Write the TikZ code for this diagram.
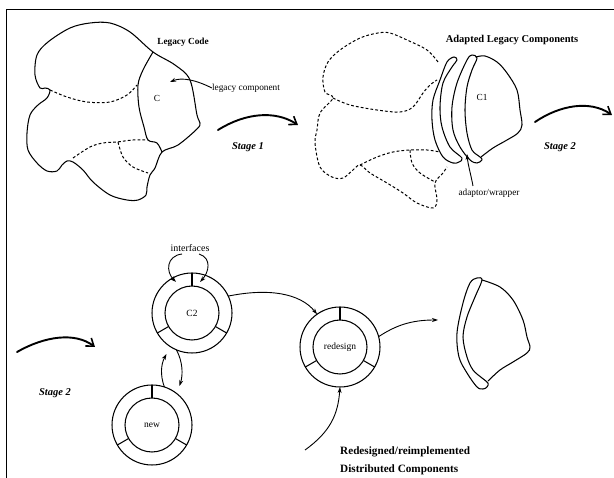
\documentclass[tikz,border=0pt]{standalone}
\usepackage{fontspec}
\setmainfont{Liberation Serif}
\usetikzlibrary{arrows.meta}
\begin{document}
\begin{tikzpicture}[x=1pt,y=-1pt,
  outl/.style={line width=1.05pt, line join=round, line cap=round},
  dsh/.style={line width=1pt, dash pattern=on 2.8pt off 2.1pt},
  ring/.style={circle, draw, line width=1.05pt, inner sep=0pt, outer sep=0pt},
  sarr/.style={line width=0.9pt, -{Stealth[length=6pt,width=4pt]}},
  bigarr/.style={line width=1.9pt, line cap=round, -{Straight Barb[length=7pt,width=10pt,line width=1.6pt]}},
  txt/.style={inner sep=0pt, font=\fontsize{9.3}{11}\selectfont},
  btxt/.style={inner sep=0pt, font=\fontsize{10.5}{12}\selectfont\bfseries},
  stg/.style={inner sep=0pt, font=\fontsize{10.5}{12}\selectfont\bfseries\itshape}
]
\useasboundingbox (0,0) rectangle (614,478);
% frame
\draw[line width=0.9pt] (6,478) -- (6,9) -- (614,9);

% ---------- Legacy code blob ----------
\draw[outl] plot[smooth cycle, tension=0.55] coordinates {
 (153,52) (175,65) (190,80) (197,115) (200,123) (197,129) (178,145) (162,152)
 (155,168) (150,175) (147,187) (146,195) (138,200) (127,200) (110,195) (93,182)
 (83,170) (73,162) (67,161) (62,165) (57,171) (47,171) (37,163) (28,150) (27,133)
 (30,115) (38,105) (47,98) (50,90) (45,88) (40,88) (35,75) (37,55) (48,42)
 (70,28) (90,23) (110,23) (130,32)};
\draw[outl] plot[smooth, tension=0.55] coordinates {
 (153,52) (143,70) (138,85) (139,107) (144,127) (148,140) (157,143) (162,152)};
\draw[dsh] plot[smooth, tension=0.55] coordinates {
 (50,90) (67,97) (87,102) (110,102) (127,95) (137,85)};
\draw[dsh] plot[smooth, tension=0.55] coordinates {
 (73,158) (90,147) (103,143) (117,142) (133,140) (148,140)};
\draw[dsh] plot[smooth, tension=0.55] coordinates {
 (118,142) (123,157) (133,167) (148,173)};
\node[txt] (cl) at (157,98) {C};
\node[btxt, font=\fontsize{9.3}{11}\selectfont\bfseries] (lc) at (183,42) {Legacy Code};
\node[txt] (lcomp) at (246,88) {legacy component};
\coordinate (lcend) at (170,82);
\draw[sarr] (lcomp.west) .. controls (196,80) and (182,77) .. (lcend);

% Stage 1
\coordinate (s1a) at (218,130);
\coordinate (s1b) at (298,125);
\draw[bigarr] (s1a) .. controls (245,113) and (275,110) .. (s1b);
\node[stg] (st1) at (248,147) {Stage 1};

% ---------- Adapted legacy components ----------
\draw[dsh] plot[smooth, tension=0.55] coordinates {
 (438,62) (427,50) (407,40) (390,33) (378,33) (360,38) (340,50) (328,62) (323,77)
 (325,92) (333,98) (320,113) (317,130) (315,143) (320,167) (332,177) (343,178)
 (353,170) (360,165) (370,173) (387,183) (403,193) (417,203) (433,208) (437,200)
 (435,183) (443,173) (447,167)};
\draw[dsh] plot[smooth, tension=0.55] coordinates {
 (333,98) (350,105) (377,110) (400,112) (413,107) (423,93) (430,85) (437,80)};
\draw[dsh] plot[smooth, tension=0.55] coordinates {
 (360,165) (377,157) (393,152) (410,150) (427,150) (440,152)};
\draw[dsh] plot[smooth, tension=0.55] coordinates {
 (410,150) (412,163) (420,173) (435,182)};
% outer strip
\draw[outl] plot[smooth cycle, tension=0.55] coordinates {
 (454,57) (447,62) (440,80) (433,100) (432,120) (435,140) (443,157) (453,163)
 (459,162) (462,158) (450,147) (442,127) (440,107) (443,83) (452,67) (457,60)};
% inner strip
\draw[outl] plot[smooth cycle, tension=0.55] coordinates {
 (472,55) (467,60) (457,83) (452,107) (453,130) (460,147) (470,160) (477,163)
 (482,160) (480,157) (472,150) (467,133) (465,110) (467,87) (472,70) (477,58)};
% C1 body
\draw[outl] plot[smooth, tension=0.55] coordinates {
 (476,57) (485,56) (497,62) (507,73) (517,90) (520,110) (522,125) (518,133)
 (507,140) (493,148) (481,157)};
\node[txt] (c1) at (482,97) {C1};
\node[btxt] (alc) at (512,40) {Adapted Legacy Components};
\node[txt] (adw) at (489,193) {adaptor/wrapper};
\coordinate (adwend) at (467,154);
\draw[sarr] (473,186) .. controls (471,175) and (468,165) .. (adwend);

% Stage 2 (top)
\coordinate (s2a) at (535,122);
\coordinate (s2b) at (612,115);
\draw[bigarr] (s2a) .. controls (560,105) and (590,100) .. (s2b);
\node[stg] (st2) at (560,147) {Stage 2};

% ---------- Bottom ----------
\coordinate (s3a) at (17,352);
\coordinate (s3b) at (95,347);
\draw[bigarr] (s3a) .. controls (45,336) and (75,332) .. (s3b);
\node[stg] (st3) at (55,393) {Stage 2};

\foreach \n/\x/\y/\t in {c2/192/313/C2, nw/152/425/new, rd/340/347/redesign} {
  \node[ring, minimum size=80pt] (\n o) at (\x,\y) {};
  \node[ring, minimum size=54pt, font=\fontsize{9.5}{11}\selectfont] (\n i) at (\x,\y) {\t};
  \foreach \a in {90,210,330} \draw[line width=1.05pt] (\n o.\a) -- (\n i.\a);
}

% interfaces
\node[txt, font=\fontsize{10}{11}\selectfont] (ifc) at (190,248) {interfaces};
\coordinate (ifl) at (176,282);
\coordinate (ifr) at (200,282);
\draw[sarr] (182,254) .. controls (166,256) and (166,272) .. (ifl);
\draw[sarr] (199,254) .. controls (212,258) and (209,272) .. (ifr);

% C2 <-> new
\coordinate (c2end) at (166.5,354);
\coordinate (nwend) at (179.5,386);
\draw[sarr] (nwo.72) .. controls (160,375) and (161,364) .. (c2end);
\draw[sarr] (c2o.247) .. controls (183,362) and (183,375) .. (nwend);

% C2 -> redesign
\draw[sarr] (c2o.25) .. controls (268,288) and (300,293) .. (rdo.125);

% redesign -> final
\coordinate (fin) at (438,320);
\draw[sarr] (rdo.15) .. controls (395,326) and (410,320) .. (fin);

% bottom -> redesign
\coordinate (rdsrc) at (305,450);
\draw[sarr] (rdsrc) .. controls (330,432) and (338,415) .. (rdo.south);

\node[btxt, font=\fontsize{11.2}{13}\selectfont\bfseries, anchor=west] (rr) at (340,452) {Redesigned/reimplemented};
\node[btxt, font=\fontsize{11.2}{13}\selectfont\bfseries, anchor=west] (dc) at (340,470) {Distributed Components};

% final component
\draw[outl] plot[smooth cycle, tension=0.55] coordinates {
 (477,278) (470,283) (463,303) (457,333) (459,357) (467,373) (477,387) (483,389)
 (487,387) (488,383) (482,378) (473,370) (467,357) (463,337) (467,317) (475,297) (482,280)};
\draw[outl] plot[smooth, tension=0.55] coordinates {
 (482,280) (500,287) (513,300) (523,320) (527,337) (530,347) (527,353) (513,362)
 (500,370) (488,381)};
\end{tikzpicture}
\end{document}
